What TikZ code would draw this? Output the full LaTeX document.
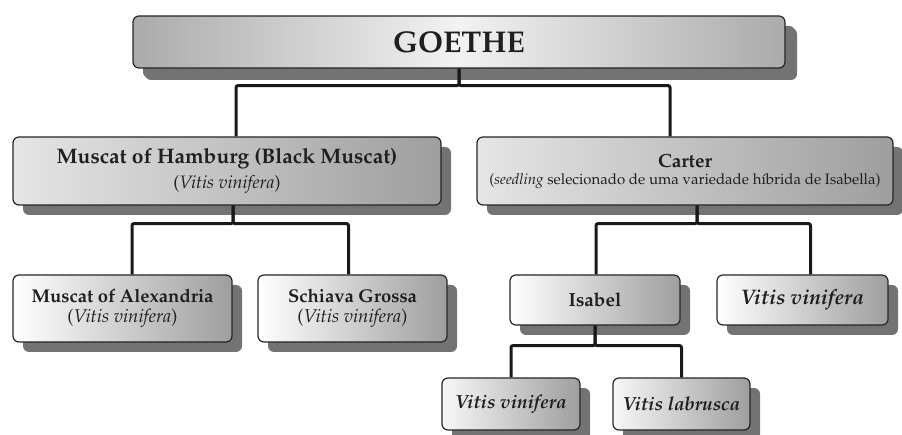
\documentclass[tikz,border=0pt]{standalone}
\usepackage[T1]{fontenc}
\usepackage{mathpazo}
\usetikzlibrary{shadows}

\tikzset{
  gbox/.style={draw=black!85, line width=1.2pt, rounded corners=6pt,
    left color=white, right color=black!38, align=center, inner sep=0pt,
    text=black!88,
    drop shadow={shadow xshift=10pt, shadow yshift=-10pt, fill=black!55, opacity=1}},
  topbox/.style={gbox, left color=black!33, right color=black!33, middle color=black!5,
    drop shadow={shadow xshift=12pt, shadow yshift=-12pt, fill=black!55, opacity=1}},
  link/.style={draw=black!90, line width=3pt, rounded corners=2pt}
}
\newcommand{\fs}[1]{\fontsize{#1}{#1}\selectfont}

\begin{document}
\begin{tikzpicture}[x=1pt, y=-1pt]
    \useasboundingbox (0,0) rectangle (902,435);
    % top
    \node[topbox, minimum width=652pt, minimum height=52pt] (goethe) at (459,42)
      {\fs{30}\textbf{GOETHE}};
    % parents
    \node[gbox, left color=black!10, minimum width=428pt, minimum height=68pt] (hamburg) at (227,171)
      {\fs{21}\textbf{Muscat of Hamburg (Black Muscat)}\\[5pt]\fs{18}(\textit{Vitis vinifera})};
    \node[gbox, left color=black!10, minimum width=416pt, minimum height=68pt] (carter) at (685,171)
      {\fs{19}\textbf{Carter}\\[5pt]\fs{15}(\textit{seedling} selecionado de uma variedade híbrida de Isabella)};
    % grandparents
    \node[gbox, minimum width=219pt, minimum height=67pt] (alexandria) at (122.5,308.5)
      {\fs{18.5}\textbf{Muscat of Alexandria}\\[5pt]\fs{18.5}(\textit{Vitis vinifera})};
    \node[gbox, minimum width=189pt, minimum height=67pt] (schiava) at (352.5,308.5)
      {\fs{18.5}\textbf{Schiava Grossa}\\[5pt]\fs{18.5}(\textit{Vitis vinifera})};
    \node[gbox, minimum width=170pt, minimum height=50pt] (isabel) at (595,300)
      {\fs{19}\textbf{Isabel}};
    \node[gbox, minimum width=171pt, minimum height=50pt] (vinifera) at (802.5,300)
      {\fs{21}\textbf{\textit{Vitis vinifera}}};
    % Isabel's parents
    \node[gbox, left color=black!3, minimum width=138pt, minimum height=52pt] (viniferab) at (511,404)
      {\fs{19}\textbf{\textit{Vitis vinifera}}};
    \node[gbox, left color=black!3, minimum width=137pt, minimum height=52pt] (labrusca) at (681.5,404)
      {\fs{19}\textbf{\textit{Vitis labrusca}}};

    % connectors
    \draw[link] (goethe.south) -- ++(0,17) -| ([xshift=9pt]hamburg.north);
    \draw[link] (goethe.south) -- ++(0,17) -| ([xshift=-15pt]carter.north);
    \draw[link] ([xshift=6pt]hamburg.south) -- ++(0,18) -| ([xshift=9.5pt]alexandria.north);
    \draw[link] ([xshift=6pt]hamburg.south) -- ++(0,18) -| ([xshift=-4pt]schiava.north);
    \draw[link] ([xshift=12pt]carter.south) -- ++(0,18) -| ([xshift=1pt]isabel.north);
    \draw[link] ([xshift=12pt]carter.south) -- ++(0,18) -| ([xshift=8pt]vinifera.north);
    \draw[link] (isabel.south) -- ++(0,20) -| (viniferab.north);
    \draw[link] (isabel.south) -- ++(0,20) -| (labrusca.north);
\end{tikzpicture}
\end{document}
